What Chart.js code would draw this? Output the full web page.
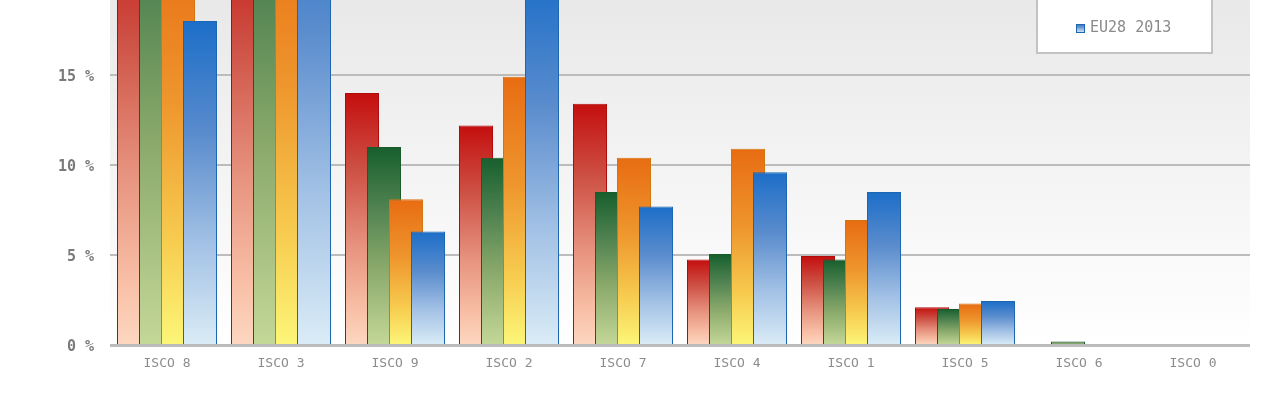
<!DOCTYPE html>
<html>
<head>
<meta charset="utf-8">
<title>ISCO occupation shares</title>
<script src="https://cdn.jsdelivr.net/npm/chart.js@4.4.1/dist/chart.umd.min.js"></script>
<style>
  html, body { margin: 0; padding: 0; background: #ffffff; overflow: hidden; width: 1276px; height: 415px; }
  #wrap { position: absolute; left: 0; top: -205px; width: 1276px; height: 620px; }
</style>
</head>
<body>
<div id="wrap"><canvas id="chart" width="1276" height="620"></canvas></div>
<script>
// ---- data ----
const categories = ['ISCO 8', 'ISCO 3', 'ISCO 9', 'ISCO 2', 'ISCO 7', 'ISCO 4', 'ISCO 1', 'ISCO 5', 'ISCO 6', 'ISCO 0'];
const seriesNames = ['UK 2008', 'EU28 2008', 'UK 2013', 'EU28 2013'];
const uk2008   = [24.5, 24.0, 14.0, 12.2, 13.4, 4.75, 4.95, 2.1, 0.0, 0.0];
const eu2008   = [29.0, 28.5, 11.0, 10.4, 8.5, 5.05, 4.75, 2.0, 0.2, 0.0];
const uk2013   = [22.5, 24.0, 8.1, 14.9, 10.4, 10.9, 6.95, 2.3, 0.0, 0.0];
const eu2013   = [18.0, 27.0, 6.3, 20.5, 7.7, 9.6, 8.5, 2.45, 0.0, 0.0];
const yTicks   = [0, 5, 10, 15, 20, 25, 30];

// ---- styling ----
const palettes = [
  { border: '#b00c0c', stops: [[0, '#c40e0e'], [0.3, '#cd5044'], [0.6, '#e6917d'], [0.85, '#f8bea5'], [1, '#fdd7c0']] },
  { border: '#1b5a2b', stops: [[0, '#165f2d'], [0.3, '#4f8250'], [0.6, '#88a86a'], [1, '#c4d898']] },
  { border: '#d2760f', stops: [[0, '#e86c12'], [0.4, '#ee962d'], [0.75, '#f7cd50'], [1, '#fcf678']] },
  { border: '#1d66b2', stops: [[0, '#1c6ec8'], [0.35, '#5a8ccd'], [0.7, '#a5c3e6'], [1, '#daecf6']] }
];

function barFill(stops) {
  return (c) => {
    const chart = c.chart;
    const y = chart.scales && chart.scales.y;
    if (!y || c.type !== 'data') return stops[0][1];
    const top = y.getPixelForValue(c.raw);
    const base = y.getPixelForValue(0);
    if (!isFinite(top) || Math.abs(base - top) < 1) return stops[0][1];
    const g = chart.ctx.createLinearGradient(0, top, 0, base);
    stops.forEach(([o, col]) => g.addColorStop(o, col));
    return g;
  };
}

const seriesValues = [uk2008, eu2008, uk2013, eu2013];
const datasets = seriesValues.map((vals, i) => ({
  label: seriesNames[i],
  data: vals,
  backgroundColor: barFill(palettes[i].stops),
  borderColor: palettes[i].border,
  borderWidth: 1,
  borderSkipped: false
}));

// plot background: soft grey fading to white
const plotBackground = {
  id: 'plotBackground',
  beforeDraw(chart) {
    const { ctx, chartArea: a } = chart;
    const g = ctx.createLinearGradient(0, a.top, 0, a.bottom);
    g.addColorStop(0, '#dcdcdc');
    g.addColorStop(1, '#ffffff');
    ctx.save();
    ctx.fillStyle = g;
    ctx.fillRect(a.left, a.top, a.right - a.left, a.bottom - a.top);
    ctx.restore();
  }
};

// draw series left-to-right so each later bar overlaps the previous one, then the base line
const layeredBars = {
  id: 'layeredBars',
  beforeDatasetsDraw(chart) {
    const { ctx, chartArea: a } = chart;
    ctx.save();
    ctx.beginPath();
    ctx.rect(a.left, a.top - 2, a.right - a.left, a.bottom - a.top + 4);
    ctx.clip();
    for (let i = 0; i < chart.data.datasets.length; i++) {
      const meta = chart.getDatasetMeta(i);
      if (meta.visible !== false) meta.controller.draw();
    }
    ctx.restore();
    const y0 = Math.round(chart.scales.y.getPixelForValue(0));
    ctx.save();
    ctx.fillStyle = '#bcbcbc';
    ctx.fillRect(a.left, y0 - 1, a.right - a.left, 3);
    ctx.restore();
    return false;
  }
};

// framed legend in the upper right of the plot
const boxLegend = {
  id: 'boxLegend',
  afterDraw(chart) {
    const { ctx } = chart;
    const x0 = 1036, x1 = 1213, rowH = 36, pad = 25;
    const n = chart.data.datasets.length;
    const bottom = 259;
    const top = bottom - pad * 2 - rowH * (n - 1);
    ctx.save();
    ctx.fillStyle = '#ffffff';
    ctx.fillRect(x0, top, x1 - x0, bottom - top);
    ctx.strokeStyle = '#c3c3c3';
    ctx.lineWidth = 2;
    ctx.strokeRect(x0 + 1, top + 1, x1 - x0 - 2, bottom - top - 2);
    ctx.font = '15px "DejaVu Sans Mono"';
    ctx.textBaseline = 'middle';
    ctx.textAlign = 'left';
    chart.data.datasets.forEach((ds, i) => {
      const cy = top + pad + rowH * i - 1;
      const pal = palettes[i];
      const g = ctx.createLinearGradient(0, cy - 5, 0, cy + 5);
      pal.stops.forEach(([o, col]) => g.addColorStop(o, col));
      ctx.fillStyle = g;
      ctx.fillRect(1076, cy - 4, 9, 9);
      ctx.strokeStyle = pal.border;
      ctx.lineWidth = 1;
      ctx.strokeRect(1076.5, cy - 3.5, 8, 8);
      ctx.fillStyle = '#8a8a8a';
      ctx.fillText(ds.label, 1090, cy);
    });
    ctx.restore();
  }
};

Chart.defaults.font.family = '"DejaVu Sans Mono", monospace';

new Chart(document.getElementById('chart'), {
  type: 'bar',
  data: { labels: categories, datasets },
  options: {
    responsive: false,
    animation: false,
    layout: { padding: { left: 0, right: 26, top: 10, bottom: 0 } },
    datasets: { bar: { categoryPercentage: 88 / 114, barPercentage: 34 / 22 } },
    plugins: { legend: { display: false }, tooltip: { enabled: false } },
    scales: {
      x: {
        grid: { display: false, drawTicks: false },
        border: { display: false },
        ticks: { color: '#8c8c8c', font: { size: 13 }, padding: 11, autoSkip: false, maxRotation: 0 },
        afterFit: (s) => { s.height = 70; s.paddingLeft = 0; s.paddingRight = 0; }
      },
      y: {
        min: yTicks[0],
        max: yTicks[yTicks.length - 1],
        afterBuildTicks: (s) => { s.ticks = yTicks.map(v => ({ value: v })); },
        grid: {
          color: '#bcbcbc',
          lineWidth: (c) => (c.tick && c.tick.value === 0 ? 0 : 2),
          drawTicks: false
        },
        border: { display: false },
        ticks: {
          color: '#7a7a7a',
          font: { size: 15, weight: 'bold' },
          padding: 16,
          labelOffset: 2,
          callback: (v) => v + ' %'
        },
        afterFit: (s) => { s.width = 110; s.paddingTop = 0; s.paddingBottom = 0; }
      }
    }
  },
  plugins: [plotBackground, layeredBars, boxLegend]
});
</script>
</body>
</html>
